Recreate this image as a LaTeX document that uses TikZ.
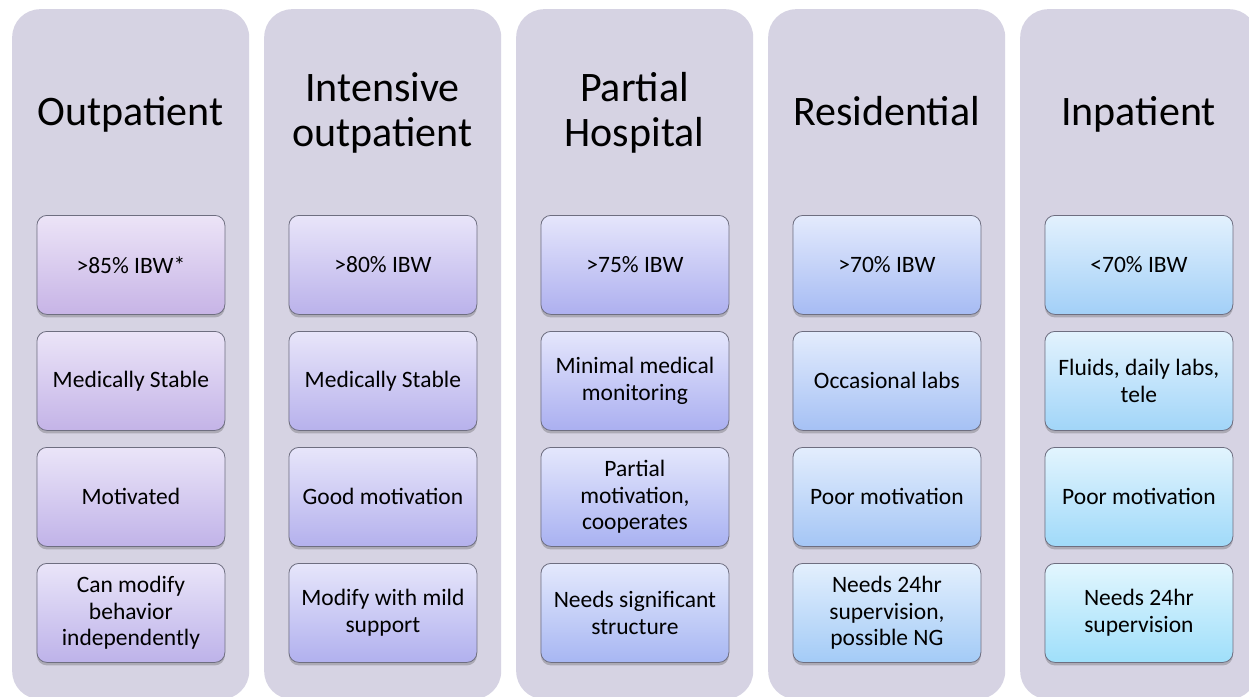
\documentclass[tikz,border=0pt]{standalone}
\usepackage{fontspec}
\setmainfont{Carlito}
\usetikzlibrary{shadows}
\definecolor{colbg}{HTML}{D6D3E3}
\definecolor{boxline}{HTML}{6E6E80}
\definecolor{purpT}{HTML}{ECE4F7}
\definecolor{purpB}{HTML}{C7B4E6}
\definecolor{blueT}{HTML}{E4E6FC}
\definecolor{blueB}{HTML}{A9AFF1}
\definecolor{cyanT}{HTML}{E2F6FE}
\definecolor{cyanB}{HTML}{9FDFFA}
\tikzset{
  column/.style={fill=colbg, draw=none, rounded corners=28pt, minimum width=237pt,
    minimum height=690pt, anchor=north west, inner sep=0pt},
  header/.style={font=\fontsize{42}{45}\selectfont, align=center, text=black},
  itembox/.style={draw=boxline, line width=0.8pt, rounded corners=10pt,
    minimum width=188pt, minimum height=99pt, anchor=north west, inner sep=2pt,
    align=center, font=\fontsize{23.5}{26.5}\selectfont, text=black,
    top color=topc, bottom color=botc,
    drop shadow={shadow xshift=0pt, shadow yshift=-3pt, opacity=0.3, fill=black!70}},
}
\begin{document}
\begin{tikzpicture}[x=1pt,y=-1pt]
\useasboundingbox (0,0) rectangle (1249,696);
\clip (0,0) rectangle (1249,696);
\fill[white] (0,0) rectangle (1249,696);
% columns
\foreach \i/\t in {0/Outpatient, 1/{Intensive\\outpatient}, 2/{Partial\\Hospital}, 3/Residential, 4/Inpatient}{
  \node[column] (col\i) at ({12+252*\i},9) {};
  \node[header] (head\i) at ({12+252*\i+118.5},116) {\t\strut};
}
% boxes
\foreach \i/\j/\txt in {
  0/0/{>85\% IBW*}, 0/1/{Medically Stable}, 0/2/{Motivated}, 0/3/{Can modify\\behavior\\independently},
  1/0/{>80\% IBW}, 1/1/{Medically Stable}, 1/2/{Good motivation}, 1/3/{Modify with mild\\support},
  2/0/{>75\% IBW}, 2/1/{Minimal medical\\monitoring}, 2/2/{Partial\\motivation,\\cooperates}, 2/3/{Needs significant\\structure},
  3/0/{>70\% IBW}, 3/1/{Occasional labs}, 3/2/{Poor motivation}, 3/3/{Needs 24hr\\supervision,\\possible NG},
  4/0/{<70\% IBW}, 4/1/{Fluids, daily labs,\\tele}, 4/2/{Poor motivation}, 4/3/{Needs 24hr\\supervision}}{
  \pgfmathtruncatemacro\k{4*\i+\j}
  \pgfmathtruncatemacro\pa{min(100,round(\k*200/19))}
  \pgfmathtruncatemacro\pb{max(0,round(\k*200/19)-100)}
  \colorlet{tmpT}{blueT!\pa!purpT}
  \colorlet{tmpB}{blueB!\pa!purpB}
  \colorlet{topc}{cyanT!\pb!tmpT}
  \colorlet{botc}{cyanB!\pb!tmpB}
  \node[itembox] (b\i\j) at ({12+252*\i+24.5},{215+116*\j}) {\txt};
}
\end{tikzpicture}
\end{document}
